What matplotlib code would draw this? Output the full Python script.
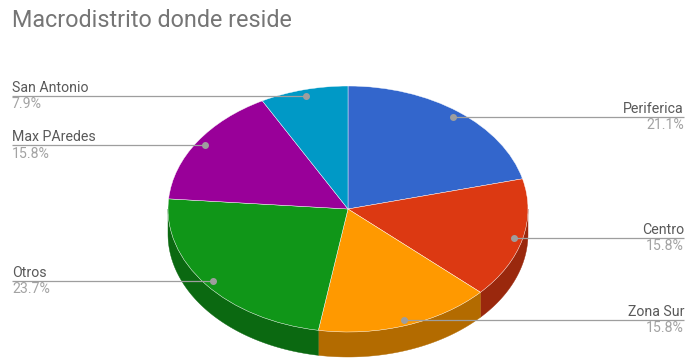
import numpy as np
import matplotlib
matplotlib.use("Agg")
import matplotlib.pyplot as plt
from matplotlib.patches import Polygon
from matplotlib.colors import to_rgb

# Residence macro-district survey counts
categories = ["Periferica", "Centro", "Zona Sur", "Otros", "Max PAredes", "San Antonio"]
counts = [8, 6, 6, 9, 6, 3]
colors = ["#3366CC", "#DC3912", "#FF9900", "#109618", "#990099", "#0099C6"]
title = "Macrodistrito donde reside"

W, H = 687, 358
CX, CY = 348, 209          # pie centre in pixels
RX, RY = 180, 123          # ellipse radii in pixels
DEPTH = 25 / RY            # height of the 3D rim in data units

plt.rcParams["font.family"] = ["Roboto", "DejaVu Sans"]

fig = plt.figure(figsize=(W / 100, H / 100), dpi=100)
ax = fig.add_axes([0, 0, 1, 1])

values = np.array(counts, dtype=float)
fracs = values / values.sum()

wedges, _ = ax.pie(values, colors=colors, startangle=90, counterclock=False,
                   radius=1, wedgeprops=dict(edgecolor="white", linewidth=0.3,
                                             zorder=3))

# map pixel space onto the unit pie so the circle becomes the ellipse
ax.set_aspect("auto")
ax.set_xlim(-CX / RX, (W - CX) / RX)
ax.set_ylim((CY - H) / RY, CY / RY)
ax.axis("off")


def px(x):
    return (x - CX) / RX


def py(y):
    return (CY - y) / RY


def darker(c, f=0.7):
    r, g, b = to_rgb(c)
    return (r * f, g * f, b * f)


# front rim of the 3D pie
cum = np.concatenate([[0], np.cumsum(fracs)])
for i, c in enumerate(colors):
    t_hi = 90 - cum[i] * 360
    t_lo = 90 - cum[i + 1] * 360
    a, b = max(t_lo, -180), min(t_hi, 0)
    if a >= b:
        continue
    th = np.radians(np.linspace(a, b, 80))
    top = np.column_stack([np.cos(th), np.sin(th)])
    bot = top[::-1] - [0, DEPTH]
    ax.add_patch(Polygon(np.vstack([top, bot]), closed=True,
                         facecolor=darker(c), edgecolor=darker(c),
                         linewidth=0.3, zorder=2))

# leader lines and labels
line_col = "#9e9e9e"
for i, name in enumerate(categories):
    mid = np.radians(90 - (cum[i] + cum[i + 1]) / 2 * 360)
    dx, dy = 0.95 * np.cos(mid), 0.95 * np.sin(mid)
    right = np.cos(mid) >= 0
    xe = px(684) if right else px(12)
    ax.plot([dx, xe], [dy, dy], color=line_col, lw=0.9, zorder=4,
            solid_capstyle="butt")
    ax.plot([dx], [dy], "o", color=line_col, ms=4, zorder=5)
    ha = "right" if right else "left"
    ax.text(xe, dy + 4 / RY, name, ha=ha, va="baseline", fontsize=10.2,
            color="#595959", zorder=6)
    ax.text(xe, dy - 12.5 / RY, f"{fracs[i] * 100:.1f}%", ha=ha, va="baseline",
            fontsize=10.2, color="#a3a3a3", zorder=6)

ax.text(px(12), py(27), title, ha="left", va="baseline", fontsize=16.8,
        color="#757575")

fig.savefig("out.png", dpi=100)
